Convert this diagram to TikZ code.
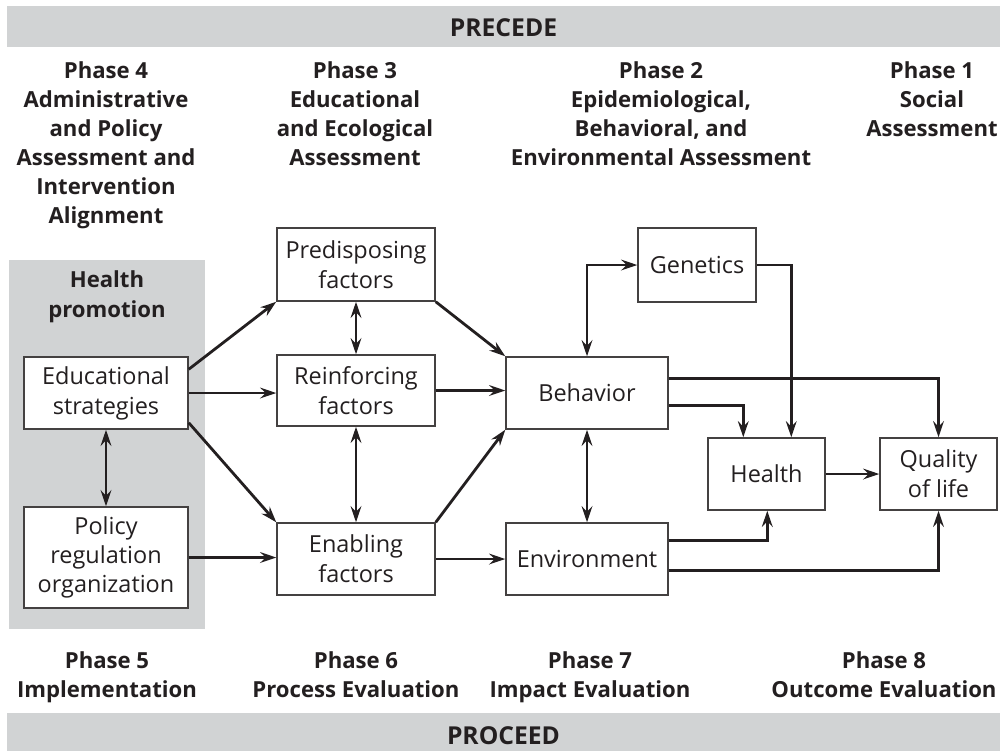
\documentclass[tikz,border=0pt]{standalone}
\usepackage{fontspec}
\setmainfont{Open Sans}
\usetikzlibrary{arrows.meta,calc}
\definecolor{barg}{HTML}{D1D3D4}
\definecolor{ink}{HTML}{231F20}
\begin{document}
\begin{tikzpicture}[x=0.75pt,y=-0.75pt,
  box/.style={draw=ink!85, line width=1.1pt, fill=white, inner sep=0pt, align=center,
    font=\fontsize{17.6}{22.5}\selectfont, text=ink},
  hdr/.style={align=center, font=\bfseries\fontsize{16.6}{21.75}\selectfont, text=ink, inner sep=0pt},
  bartext/.style={hdr, font=\bfseries\fontsize{18.5}{22}\selectfont},
  tip/.tip={Stealth[length=12pt,width=8pt,inset=4pt]},
  arr/.style={draw=ink, line width=2.1pt, -tip},
  darr/.style={draw=ink, line width=2.1pt, tip-tip}]
\useasboundingbox (0,0) rectangle (1006,751);
% bars
\fill[barg] (7,6) rectangle (1000,47);
\node[bartext] (precede) at (503.5,27.5) {PRECEDE};
\fill[barg] (7,713) rectangle (1000,751);
\node[bartext] (proceed) at (503.5,736) {PROCEED};
% health promotion panel
\fill[barg] (9,260) rectangle (205,629);
\node[hdr, font=\bfseries\fontsize{16.6}{22.5}\selectfont] (hp) at (107,297) {Health\\promotion};
% headers
\node[hdr, anchor=north] (ph4) at (106,61) {Phase 4\\Administrative\\and Policy\\Assessment and\\Intervention\\Alignment};
\node[hdr, anchor=north] (ph3) at (355,61) {Phase 3\\Educational\\and Ecological\\Assessment};
\node[hdr, anchor=north] (ph2) at (661,61) {Phase 2\\Epidemiological,\\Behavioral, and\\Environmental Assessment};
\node[hdr, anchor=north] (ph1) at (932,61) {Phase 1\\Social\\Assessment};
\node[hdr, anchor=north] (ph5) at (107,651) {Phase 5\\Implementation};
\node[hdr, anchor=north] (ph6) at (356,651) {Phase 6\\Process Evaluation};
\node[hdr, anchor=north] (ph7) at (590,651) {Phase 7\\Impact Evaluation};
\node[hdr, anchor=north] (ph8) at (884,651) {Phase 8\\Outcome Evaluation};
% boxes
\node[box, minimum width=118.5pt, minimum height=54.75pt] (pre) at (356,264.5) {Predisposing\\factors};
\node[box, minimum width=118.5pt, minimum height=53.25pt] (rei) at (356,390.5) {Reinforcing\\factors};
\node[box, minimum width=118.5pt, minimum height=54pt] (ena) at (356,559) {Enabling\\factors};
\node[box, minimum width=123pt, minimum height=54pt] (edu) at (106,393) {Educational\\strategies};
\node[box, minimum width=123pt, minimum height=75.75pt, font=\fontsize{17.6}{21.75}\selectfont] (pol) at (106,557.5) {Policy\\regulation\\organization};
\node[box, minimum width=121.5pt, minimum height=54pt] (beh) at (587,393) {Behavior};
\node[box, minimum width=121.5pt, minimum height=54pt] (env) at (587,559) {Environment};
\node[box, minimum width=88.5pt, minimum height=55.5pt] (gen) at (697,265) {Genetics};
\node[box, minimum width=87.75pt, minimum height=54pt] (hea) at (766.5,474) {Health};
\node[box, minimum width=87.75pt, minimum height=54pt] (qol) at (938.5,474) {Quality\\of life};
% connectors
\draw[arr] ($(edu.north east)+(0,13)$) -- (pre.south west);
\draw[arr] (edu.east) -- (edu.east -| rei.west);
\draw[arr] ($(edu.south east)+(0,-7)$) -- (ena.north west);
\draw[arr] (pol.east) -- (pol.east -| ena.west);
\draw[darr] (edu.south) -- (pol.north);
\draw[darr] (pre.south) -- (rei.north);
\draw[darr] (rei.south) -- (ena.north);
\draw[arr] (pre.south east) -- (beh.north west);
\draw[arr] (rei.east) -- (rei.east -| beh.west);
\draw[arr] (ena.north east) -- (beh.south west);
\draw[arr] (ena.east) -- (env.west);
\draw[darr] (beh.north) |- (gen.west);
\draw[arr] (gen.east) -| ($(hea.north west)+(84,0)$);
\draw[arr] ($(beh.north east)+(0,22)$) -| (qol.north);
\draw[arr] ($(beh.north east)+(0,49)$) -| ($(hea.north west)+(36,0)$);
\draw[darr] (beh.south) -- (env.north);
\draw[arr] (hea.east) -- (qol.west);
\draw[arr] ($(env.north east)+(0,18)$) -| ($(hea.south west)+(60,0)$);
\draw[arr] ($(env.north east)+(0,48)$) -| (qol.south);
\end{tikzpicture}
\end{document}
